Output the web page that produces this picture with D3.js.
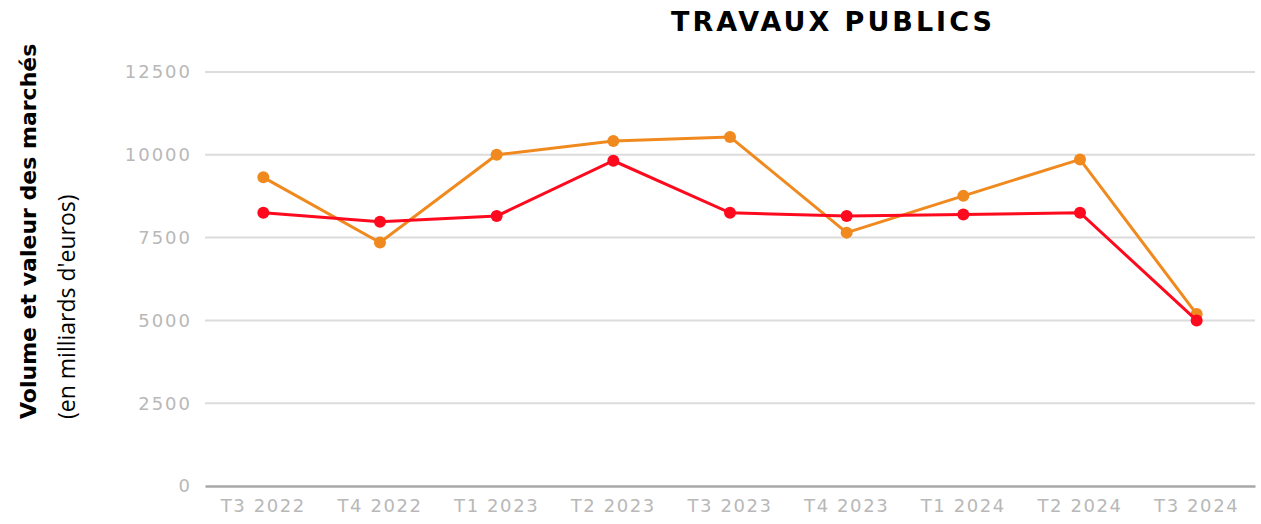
<!DOCTYPE html>
<html>
<head>
<meta charset="utf-8">
<script src="https://cdn.jsdelivr.net/npm/d3@7"></script>
<style>
  body { margin: 0; background: #fff; }
</style>
</head>
<body>
<div id="chart"></div>
<script>
// quarters and the two series
const quarters = ["T3 2022", "T4 2022", "T1 2023", "T2 2023", "T3 2023", "T4 2023", "T1 2024", "T2 2024", "T3 2024"];
const redValues = [8250, 7980, 8150, 9820, 8250, 8150, 8200, 8250, 5000];
const orangeValues = [9320, 7350, 10000, 10420, 10540, 7650, 8760, 9860, 5190];
const yTicks = [0, 2500, 5000, 7500, 10000, 12500];

const width = 1261, height = 524;
const margin = {left: 205, right: 6, top: 72, bottom: 38};

const svg = d3.select("#chart").append("svg")
    .attr("width", width)
    .attr("height", height);

const x = d3.scaleBand()
    .domain(quarters)
    .range([margin.left, width - margin.right]);

const y = d3.scaleLinear()
    .domain([0, 12500])
    .range([height - margin.bottom, margin.top]);

// gridlines
svg.append("g")
    .selectAll("line")
    .data(yTicks.filter(d => d > 0))
    .join("line")
    .attr("x1", margin.left).attr("x2", width - margin.right)
    .attr("y1", d => y(d)).attr("y2", d => y(d))
    .attr("stroke", "#dcdcdc")
    .attr("stroke-width", 2);

// y tick labels
svg.append("g")
    .selectAll("text")
    .data(yTicks)
    .join("text")
    .attr("x", margin.left - 13)
    .attr("y", d => y(d))
    .attr("dy", "0.35em")
    .attr("text-anchor", "end")
    .attr("fill", "#b8b8b8")
    .style("font-family", "'DejaVu Sans', sans-serif")
    .style("font-size", "18px")
    .style("letter-spacing", "2px")
    .text(d => d);

// x axis
const xAxis = svg.append("g")
    .attr("transform", `translate(0,${y(0)})`)
    .call(d3.axisBottom(x).tickSize(0).tickPadding(13));
xAxis.select(".domain")
    .attr("stroke", "#a8a8a8")
    .attr("stroke-width", 2.5);
xAxis.selectAll(".tick text")
    .attr("fill", "#b8b8b8")
    .style("font-family", "'DejaVu Sans', sans-serif")
    .style("font-size", "18px")
    .style("letter-spacing", "1.6px");

const series = [
    {name: "orange", values: orangeValues, color: "#f0891e"},
    {name: "red", values: redValues, color: "#fe0a1e"}
];

const line = d3.line()
    .x((d, i) => x(quarters[i]) + x.bandwidth() / 2)
    .y(d => y(d));

series.forEach(s => {
    const g = svg.append("g");
    g.append("path")
        .attr("d", line(s.values))
        .attr("fill", "none")
        .attr("stroke", s.color)
        .attr("stroke-width", 3);
    g.selectAll("circle")
        .data(s.values)
        .join("circle")
        .attr("cx", (d, i) => x(quarters[i]) + x.bandwidth() / 2)
        .attr("cy", d => y(d))
        .attr("r", 6)
        .attr("fill", s.color);
});

// title
svg.append("text")
    .attr("x", 833)
    .attr("y", 31)
    .attr("text-anchor", "middle")
    .style("font-family", "'DejaVu Sans', sans-serif")
    .style("font-weight", 700)
    .style("font-size", "27px")
    .style("letter-spacing", "3px")
    .text("TRAVAUX PUBLICS");

// y axis title
const yTitle = svg.append("g")
    .attr("transform", "translate(0,419) rotate(-90)");
yTitle.append("text")
    .attr("x", 0).attr("y", 36)
    .style("font-family", "'DejaVu Sans', sans-serif")
    .style("font-weight", 700)
    .style("font-size", "22px")
    .text("Volume et valeur des marchés");
yTitle.append("text")
    .attr("x", 0).attr("y", 75)
    .style("font-family", "'Open Sans', sans-serif")
    .style("font-size", "23px")
    .text("(en milliards d'euros)");
</script>
</body>
</html>
